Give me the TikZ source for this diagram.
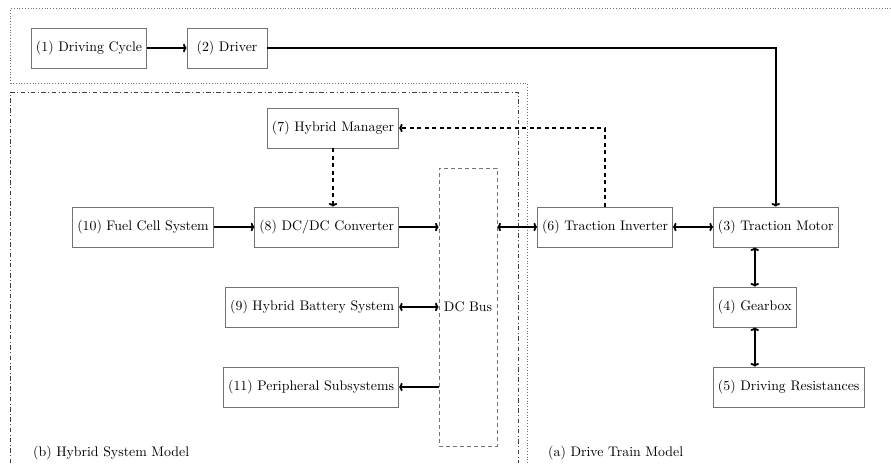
\documentclass[tikz,border=0pt]{standalone}
\usepackage{fontspec}
\setmainfont{lmroman10-regular.otf}
\usetikzlibrary{arrows.meta}

\begin{document}
\begin{tikzpicture}[x=1pt,y=-1pt,
  box/.style={draw=black!55, line width=0.7pt, minimum height=40pt,
              inner xsep=4.6pt, inner ysep=0pt,
              font=\fontsize{13.85}{16}\selectfont},
  lbl/.style={inner sep=0pt, anchor=west, font=\fontsize{13.85}{16}\selectfont},
  tip/.style={},
  flow/.style={line width=1.8pt, -{To[length=3.6pt,width=8.5pt]}},
  biflow/.style={line width=1.8pt, {To[length=3.6pt,width=8.5pt]}-{To[length=3.6pt,width=8.5pt]}},
  ctrl/.style={flow, dash pattern=on 4pt off 3.5pt},
  region/.style={line width=0.8pt, draw=black!55, dash pattern=on 0.8pt off 2pt},
  subregion/.style={line width=0.8pt, draw=black!75,
                    dash pattern=on 4.5pt off 2.5pt on 0.8pt off 2.5pt},
  busbox/.style={draw=black!55, line width=0.7pt, dash pattern=on 4pt off 3pt,
                 minimum width=58pt, minimum height=278pt, inner sep=0pt,
                 font=\fontsize{13.85}{16}\selectfont}
]
\useasboundingbox (0,0) rectangle (891,463);

% model regions
\draw[region] (891,8.5) -- (10.5,8.5) -- (10.5,83) -- (527,83) -- (527,463);
\draw[subregion] (10.5,463) -- (10.5,92) -- (518,92) -- (518,463);

% driving cycle and driver
\node[box] (cyc) at (89,48) {(1) Driving Cycle};
\node[box, minimum width=80pt] (drv) at (227,48) {(2) Driver};

% hybrid system
\node[box, anchor=east] (hm)   at (399,128) {(7) Hybrid Manager};
\node[box]              (fc)   at (143,227) {(10) Fuel Cell System};
\node[box, anchor=east] (dcdc) at (399,227) {(8) DC/DC Converter};
\node[box, anchor=east] (bat)  at (399,307) {(9) Hybrid Battery System};
\node[box, anchor=east] (per)  at (399,387) {(11) Peripheral Subsystems};
\node[busbox]           (bus)  at (468,307) {DC Bus};

% drive train
\node[box]              (inv) at (605,227) {(6) Traction Inverter};
\node[box, anchor=west] (mot) at (713,227) {(3) Traction Motor};
\node[box, anchor=west] (gb)  at (713,307) {(4) Gearbox};
\node[box, anchor=west] (res) at (713,387) {(5) Driving Resistances};

% region captions
\node[lbl] (capb) at (33,453)  {(b) Hybrid System Model};
\node[lbl] (capa) at (548,453) {(a) Drive Train Model};

% connections
\draw[flow] (cyc.east) -- (drv.west);
\draw[flow] (drv.east) -| (mot.north);
\draw[ctrl] (hm.south) -- (hm.south |- dcdc.north);
\draw[ctrl] (inv.north) |- (hm.east);
\draw[flow] (fc.east) -- (dcdc.west);
\draw[flow] (dcdc.east) -- (bus.west |- dcdc.east);
\draw[biflow] (bus.east |- inv.west) -- (inv.west);
\draw[biflow] (inv.east) -- (mot.west);
\draw[biflow] (gb.north |- mot.south) -- (gb.north);
\draw[biflow] (gb.south) -- (gb.south |- res.north);
\draw[biflow] (bat.east) -- (bus.west |- bat.east);
\draw[flow] (bus.west |- per.east) -- (per.east);
\end{tikzpicture}
\end{document}
